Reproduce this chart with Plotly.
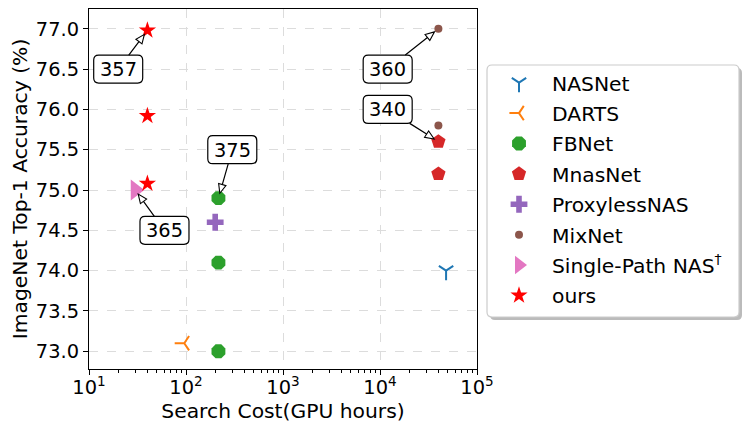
import numpy as np
import plotly.graph_objects as go

# ---- data ----
nasnet_cost = [48000]
nasnet_acc = [74.0]
darts_cost = [96]
darts_acc = [73.1]
fbnet_cost = [216, 216, 216]
fbnet_acc = [74.9, 74.1, 73.0]
mnas_cost = [40000, 40000]
mnas_acc = [75.6, 75.2]
proxyless_cost = [200]
proxyless_acc = [74.6]
mixnet_cost = [40000, 40000]
mixnet_acc = [77.0, 75.8]
spnas_cost = [30]
spnas_acc = [75.0]
ours_cost = [40, 40, 40]
ours_acc = [76.98, 75.92, 75.08]

# annotations: label, target (cost, acc), text position (cost, acc)
ann_labels = ["357", "360", "340", "375", "365"]
ann_target_cost = [40, 40000, 40000, 216, 30]
ann_target_acc = [76.98, 77.0, 75.6, 74.9, 75.0]
ann_text_cost = [20, 12000, 12000, 300, 60]
ann_text_acc = [76.5, 76.5, 76.0, 75.5, 74.5]

x_tickvals = [10, 100, 1000, 10000, 100000]
x_ticktext = ["10<sup>1</sup>", "10<sup>2</sup>", "10<sup>3</sup>", "10<sup>4</sup>", "10<sup>5</sup>"]
x_minor = [m * 10 ** k for k in range(1, 5) for m in range(2, 10)]

FONT = "DejaVu Sans"
FS = 19.4
FT = 20.3

XR = [1, 5]
YR = [72.78, 77.245]

series = [
    ("NASNet", nasnet_cost, nasnet_acc, dict(symbol="y-down", size=12, color="#1f77b4",
                                             line=dict(color="#1f77b4", width=2))),
    ("DARTS", darts_cost, darts_acc, dict(symbol="y-left", size=12, color="#ff7f0e",
                                          line=dict(color="#ff7f0e", width=2))),
    ("FBNet", fbnet_cost, fbnet_acc, dict(symbol="octagon", size=15, color="#2ca02c", line=dict(width=0))),
    ("MnasNet", mnas_cost, mnas_acc, dict(symbol="pentagon", size=15, color="#d62728", line=dict(width=0))),
    ("ProxylessNAS", proxyless_cost, proxyless_acc, dict(symbol="cross", size=14, color="#9467bd", line=dict(width=0))),
    ("MixNet", mixnet_cost, mixnet_acc, dict(symbol="circle", size=8, color="#8c564b", line=dict(width=0))),
    ("Single-Path NAS<sup>†</sup>", spnas_cost, spnas_acc, dict(symbol="triangle-right", size=18, color="#e377c2", line=dict(width=0))),
    ("ours", ours_cost, ours_acc, dict(symbol="star", size=13, color="#ff0000", line=dict(width=0))),
]

fig = go.Figure()
for i, (name, xs, ys, mk) in enumerate(series):
    fig.add_trace(go.Scatter(x=xs, y=ys, mode="markers", name=name, marker=mk,
                             legendgroup="g%d" % i, showlegend=True))

# plot-area geometry (pixels)
L, T, PW, PH = 89, 9, 388, 360

def xpaper(v):
    return (np.log10(v) - XR[0]) / (XR[1] - XR[0])

def ypaper(v):
    return (v - YR[0]) / (YR[1] - YR[0])

def px_to_paper(px, py):
    return (px - L) / PW, (T + PH - py) / PH

def rounded_path_pixels(w, h, r):
    a0, a1, b0, b1 = -w / 2, w / 2, -h / 2, h / 2
    return (f"M{a0+r},{b0} L{a1-r},{b0} Q{a1},{b0} {a1},{b0+r} "
            f"L{a1},{b1-r} Q{a1},{b1} {a1-r},{b1} L{a0+r},{b1} "
            f"Q{a0},{b1} {a0},{b1-r} L{a0},{b0+r} Q{a0},{b0} {a0+r},{b0} Z")

BOX_W, BOX_H = 49, 28
HEAD_L, HEAD_W, STANDOFF = 9, 3.8, 5

annotations = []
shapes = []
for lab, tx, ty, sx, sy in zip(ann_labels, ann_target_cost, ann_target_acc, ann_text_cost, ann_text_acc):
    # rounded label box
    shapes.append(dict(type="path", xref="paper", yref="paper",
                       xsizemode="pixel", ysizemode="pixel",
                       xanchor=xpaper(sx), yanchor=ypaper(sy),
                       path=rounded_path_pixels(BOX_W, BOX_H, 5),
                       fillcolor="white", line=dict(color="black", width=1.2), layer="above"))
    # hollow arrow head (direction from label centre to target, in pixels; y up)
    dx = (xpaper(tx) - xpaper(sx)) * PW
    dy = (ypaper(ty) - ypaper(sy)) * PH
    d = np.hypot(dx, dy)
    ux, uy = dx / d, dy / d
    nx, ny = -uy, ux
    tipx, tipy = -STANDOFF * ux, -STANDOFF * uy
    bx, by = tipx - HEAD_L * ux, tipy - HEAD_L * uy
    p1 = (bx + HEAD_W * nx, by + HEAD_W * ny)
    p2 = (bx - HEAD_W * nx, by - HEAD_W * ny)
    shapes.append(dict(type="path", xref="paper", yref="paper",
                       xsizemode="pixel", ysizemode="pixel",
                       xanchor=xpaper(tx), yanchor=ypaper(ty),
                       path=f"M{tipx},{tipy} L{p1[0]},{p1[1]} L{p2[0]},{p2[1]} Z",
                       fillcolor="white", line=dict(color="black", width=1.1), layer="above"))
    annotations.append(dict(
        x=np.log10(tx), y=ty, xref="x", yref="y",
        ax=np.log10(sx), ay=sy, axref="x", ayref="y",
        text=lab, showarrow=True, arrowhead=0, arrowwidth=1.2,
        arrowcolor="black", standoff=STANDOFF + HEAD_L,
        width=BOX_W, height=BOX_H, borderpad=0, borderwidth=0,
        font=dict(family=FONT, size=FS, color="black"),
        bgcolor="rgba(0,0,0,0)",
    ))

# legend frame (rounded, with shadow), pixel geometry -> paper coords
def rounded_path(x0p, y0p, x1p, y1p, r=5):
    a0, b0 = px_to_paper(x0p, y0p)
    a1, b1 = px_to_paper(x1p, y1p)
    rx, ry = r / PW, r / PH
    return (f"M{a0+rx},{b0} L{a1-rx},{b0} Q{a1},{b0} {a1},{b0-ry} "
            f"L{a1},{b1+ry} Q{a1},{b1} {a1-rx},{b1} L{a0+rx},{b1} "
            f"Q{a0},{b1} {a0},{b1+ry} L{a0},{b0-ry} Q{a0},{b0} {a0+rx},{b0} Z")

shapes += [
    dict(type="path", xref="paper", yref="paper", path=rounded_path(490, 68, 742, 320),
         fillcolor="rgba(120,120,120,0.5)", line=dict(width=0), layer="above"),
    dict(type="path", xref="paper", yref="paper", path=rounded_path(487, 65, 739, 317),
         fillcolor="white", line=dict(color="#cccccc", width=1.2), layer="above"),
]

lx, ly = px_to_paper(486, 63)

fig.update_layout(
    width=747, height=435,
    margin=dict(l=L, r=747 - L - PW, t=T, b=435 - T - PH, autoexpand=False),
    paper_bgcolor="white", plot_bgcolor="white",
    font=dict(family=FONT, size=FS, color="black"),
    showlegend=True,
    legend=dict(x=lx, y=ly, xanchor="left", yanchor="top", bgcolor="rgba(0,0,0,0)",
                borderwidth=0, font=dict(family=FONT, size=FT), tracegroupgap=1,
                itemwidth=56),
    annotations=annotations,
    shapes=shapes,
    xaxis=dict(type="log", range=XR, tickvals=x_tickvals, ticktext=x_ticktext,
               showline=True, mirror=True, linecolor="black", linewidth=1.2,
               ticks="outside", ticklen=5, tickwidth=1.2, tickcolor="black",
               ticklabelstandoff=-4,
               showgrid=True, gridcolor="#dcdcdc", griddash="dash", gridwidth=1,
               minor=dict(tickvals=x_minor, ticks="outside", ticklen=3, tickwidth=1,
                          tickcolor="black", showgrid=False),
               zeroline=False, automargin=False,
               title=dict(text="Search Cost(GPU hours)", font=dict(family=FONT, size=FT), standoff=2)),
    yaxis=dict(range=YR, dtick=0.5, tick0=73.0, tickformat=".1f",
               showline=True, mirror=True, linecolor="black", linewidth=1.2,
               ticks="outside", ticklen=5, tickwidth=1.2, tickcolor="black",
               showgrid=True, gridcolor="#dcdcdc", griddash="dash", gridwidth=1,
               zeroline=False, automargin=False,
               title=dict(text="ImageNet Top-1 Accuracy (%)", font=dict(family=FONT, size=FT), standoff=2)),
)

fig.write_html("out.html", config={"displayModeBar": False},
               post_script="document.body.style.margin='0px';")
